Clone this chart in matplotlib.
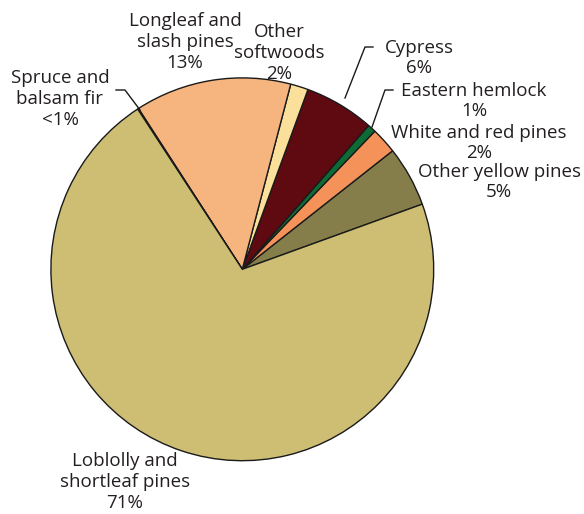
import matplotlib
matplotlib.use("Agg")
from matplotlib import pyplot as plt

# slices, counterclockwise starting from the right edge of the big slice
names = ["Other yellow pines", "White and red pines", "Eastern hemlock", "Cypress",
         "Other softwoods", "Longleaf and slash pines", "Spruce and balsam fir",
         "Loblolly and shortleaf pines"]
shares = [5.1, 2.2, 0.7, 5.9, 1.5, 13.2, 0.08, 71.32]
colors = ["#857e4b", "#f4925a", "#0e6b35", "#5e0a10",
          "#fae09a", "#f6b57e", "#cdbe74", "#cdbe74"]

labels = ["Other yellow pines\n5%", "White and red pines\n2%", "Eastern hemlock\n1%",
          "Cypress\n6%", "Other\nsoftwoods\n2%", "Longleaf and\nslash pines\n13%",
          "Spruce and\nbalsam fir\n<1%", "Loblolly and\nshortleaf pines\n71%"]

W, H = 584, 514
txt = "#231f20"

fig = plt.figure(figsize=(W / 100, H / 100), dpi=100)
ax = fig.add_axes([0, 0, 1, 1])

cx, cy, r = 242.3, 269.3, 191.4

def fy(y):
    # picture y (top down) -> axes y
    return H - y

ax.pie(shares, colors=colors, startangle=19.9, counterclock=True,
       center=(cx, fy(cy)), radius=r,
       wedgeprops={"edgecolor": "#1a1a1a", "linewidth": 1.0})

ax.set_xlim(0, W)
ax.set_ylim(0, H)
ax.set_aspect("equal")
ax.axis("off")

# label positions (center x, center y of block)
label_pos = [(499, 182), (479, 143), (474, 101), (419, 58),
             (279, 53), (185, 42), (60, 99), (125, 482)]
for lab, (x, y) in zip(labels, label_pos):
    ax.text(x, fy(y), lab, ha="center", va="center", fontsize=13.5,
            color=txt, family="Open Sans", linespacing=1.2)

# leader lines
leaders = [
    [(345, 98), (365, 47), (373, 47)],
    [(372, 127), (385, 90), (393, 90)],
    [(116, 90), (125, 90), (140, 110)],
]
for pts in leaders:
    xs = [p[0] for p in pts]
    ys = [fy(p[1]) for p in pts]
    ax.plot(xs, ys, color="#1a1a1a", linewidth=1.0)

fig.savefig("out.png", dpi=100)
